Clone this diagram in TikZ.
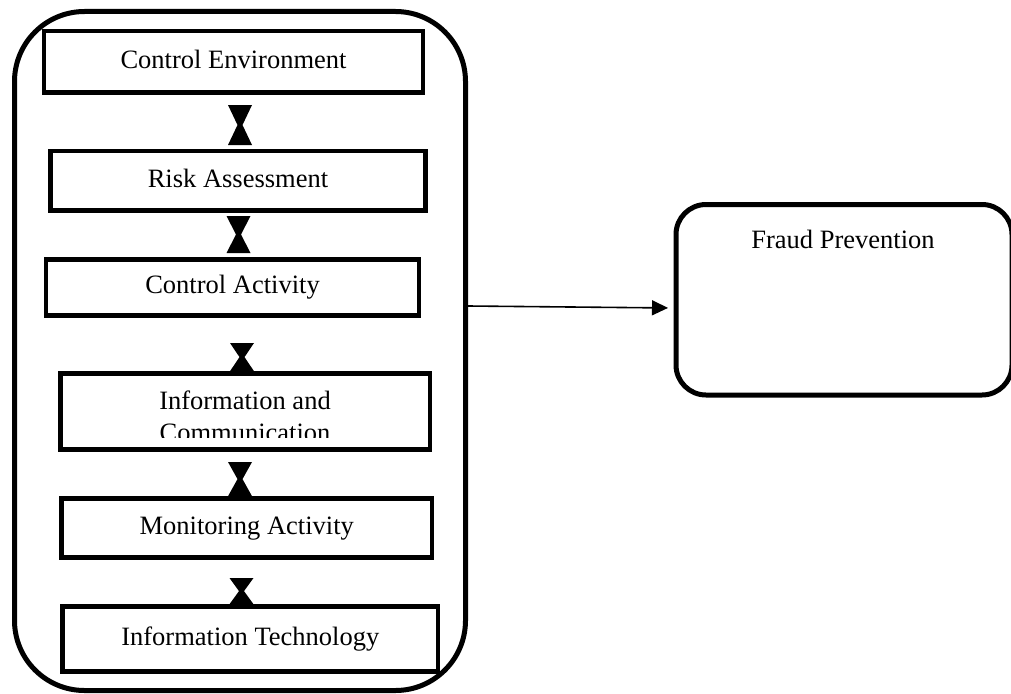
\documentclass[tikz,border=0pt]{standalone}
\usepackage{fontspec}
\setmainfont{Liberation Serif}
\usetikzlibrary{calc,arrows.meta}

\begin{document}
\begin{tikzpicture}[x=1pt,y=-1pt,
  every node/.style={inner sep=0pt},
  txt/.style={font=\fontsize{26.5pt}{32.5pt}\selectfont, text height=18.5pt, text depth=5.8pt},
  stage/.style={draw, line width=4.6pt, rectangle, txt},
  frame/.style={draw, line width=5pt, rounded corners=70pt, rectangle},
  target/.style={draw, line width=5pt, rounded corners=30pt, rectangle},
  flow/.style={line width=1.6pt, -{Triangle[length=16pt,width=15pt]}},
  hg/.style={to path={
    ($(\tikztostart)+(-12pt,0)$) -- ($(\tikztostart)+(12pt,0)$)
    -- ($(\tikztostart)!0.5!(\tikztotarget)+(2.5pt,0)$)
    -- ($(\tikztotarget)+(12pt,0)$) -- ($(\tikztotarget)+(-12pt,0)$)
    -- ($(\tikztostart)!0.5!(\tikztotarget)+(-2.5pt,0)$) -- cycle}}
]
\useasboundingbox (0,0) rectangle (1011,693);

% outer grouping frame
\node[frame, minimum width=451pt, minimum height=679pt] (frame) at (240,351) {};

% the internal control components
\node[stage, minimum width=379pt, minimum height=61.5pt] (ce) at (233.5,61.75) {Control Environment};
\node[stage, minimum width=375pt, minimum height=59.5pt] (ra) at (238,180.75) {Risk Assessment};
\node[stage, minimum width=373pt, minimum height=56pt] (ca) at (232.5,287.5) {Control Activity};
\node[stage, minimum width=369.5pt, minimum height=76pt] (ic) at (245.25,411.5) {};
\node[stage, minimum width=370.5pt, minimum height=59pt] (ma) at (246.75,528) {Monitoring Activity};
\node[stage, minimum width=375.5pt, minimum height=65pt] (it) at (250.25,639) {Information Technology};

% two-line label, cut off at the lower part of its box
\begin{scope}
  \clip (63,376) rectangle (428,437);
  \node[font=\fontsize{26.5pt}{32.5pt}\selectfont, align=center, anchor=base] (ictext) at (245,441.5) {Information and\\Communication};
\end{scope}

% outcome box
\node[target, minimum width=336pt, minimum height=190.5pt] (fp) at (844,299.75) {};
\node[txt] (fptext) at (843,242) {Fraud Prevention};

% hourglass links between consecutive components
\coordinate (h1a) at ([xshift=6.5pt,yshift=-10.2pt]ce.south);
\coordinate (h1b) at ([xshift=2pt,yshift=3.7pt]ra.north);
\coordinate (h2a) at ([xshift=0.5pt,yshift=-3.2pt]ra.south);
\coordinate (h2b) at ([xshift=6pt,yshift=4.2pt]ca.north);
\coordinate (h3a) at ([xshift=9.5pt,yshift=-25.2pt]ca.south);
\coordinate (h3b) at ([xshift=-3.25pt]ic.north);
\coordinate (h4a) at ([xshift=-5.25pt,yshift=-10.2pt]ic.south);
\coordinate (h4b) at ([xshift=-6.75pt]ma.north);
\coordinate (h5a) at ([xshift=-5.25pt,yshift=-18.2pt]ma.south);
\coordinate (h5b) at ([xshift=-8.75pt]it.north);
\fill (h1a) to[hg] (h1b);
\fill (h2a) to[hg] (h2b);
\fill (h3a) to[hg] (h3b);
\fill (h4a) to[hg] (h4b);
\fill (h5a) to[hg] (h5b);

% link from the frame to the outcome
\draw[flow, shorten >=5.5pt] ([yshift=45pt]frame.east) -- ([yshift=-8.25pt]fp.west);
\end{tikzpicture}
\end{document}
